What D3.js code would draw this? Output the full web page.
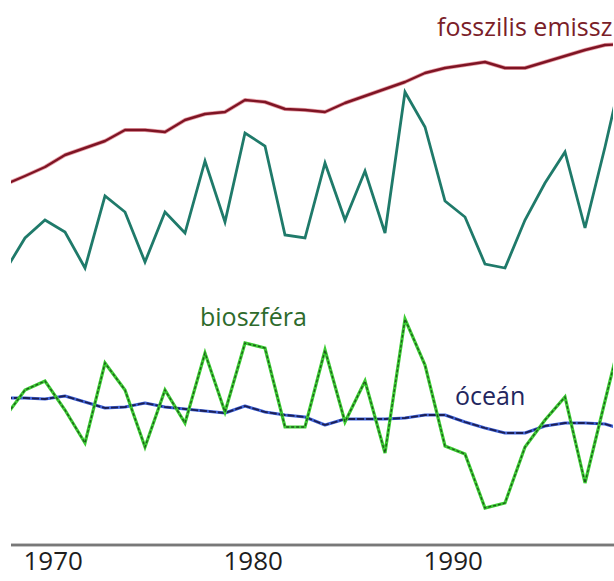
<!DOCTYPE html>
<html>
<head>
<meta charset="utf-8">
<script src="https://cdn.jsdelivr.net/npm/d3@7"></script>
<style>
  html, body { margin: 0; padding: 0; background: #fff; }
  svg { display: block; font-family: "Open Sans", "Noto Sans", sans-serif; }
</style>
</head>
<body>
<svg id="chart" width="614" height="581"></svg>
<script>
// Global carbon budget fluxes (GtC/yr, sinks shown around a shared baseline)
const years = d3.range(1969, 2001);

const fossil = [4.31, 4.48, 4.66, 4.90, 5.04, 5.18, 5.40, 5.40, 5.36, 5.60,
                5.72, 5.76, 6.00, 5.96, 5.82, 5.80, 5.76, 5.94, 6.08, 6.22,
                6.36, 6.54, 6.64, 6.70, 6.76, 6.64, 6.64, 6.76, 6.88, 7.00,
                7.10, 7.12];

const atmosphere = [2.58, 3.24, 3.60, 3.36, 2.64, 4.08, 3.76, 2.76, 3.76, 3.34,
                    4.78, 3.56, 5.34, 5.08, 3.30, 3.24, 4.74, 3.60, 4.58, 3.34,
                    6.16, 5.46, 3.98, 3.66, 2.72, 2.64, 3.60, 4.34, 4.96, 3.44,
                    5.06, 6.80];

const biosphere = [-0.34, 0.20, 0.38, -0.20, -0.86, 0.74, 0.20, -0.94, 0.20, -0.46,
                   0.94, -0.24, 1.14, 1.04, -0.54, -0.54, 1.00, -0.44, 0.38, -1.06,
                   1.62, 0.70, -0.92, -1.08, -2.16, -2.06, -0.94, -0.40, 0.06, -1.66,
                   -0.02, 1.60];

const ocean = [0.04, 0.04, 0.02, 0.08, -0.04, -0.16, -0.14, -0.06, -0.14, -0.18,
               -0.22, -0.26, -0.12, -0.24, -0.30, -0.34, -0.50, -0.38, -0.38, -0.38,
               -0.36, -0.30, -0.30, -0.44, -0.56, -0.66, -0.66, -0.52, -0.46, -0.46,
               -0.48, -0.60];

const tickYears = [1970, 1980, 1990];
const tickLabels = ["1970", "1980", "1990"];

const seriesLabels = {
  fossil: "fosszilis emisszió",
  biosphere: "bioszféra",
  ocean: "óceán"
};

const svg = d3.select("#chart");
const W = 614, H = 581;

const x = d3.scaleLinear().domain([1970, 1990]).range([25, 425]);
const y = d3.scaleLinear().domain([0, 1]).range([400, 350]);

svg.append("defs").append("clipPath").attr("id", "plot-clip")
  .append("rect").attr("x", 11).attr("y", 0).attr("width", 602).attr("height", 540);

const line = d3.line().x(d => x(d[0])).y(d => y(d[1]));
const pairs = vals => years.map((yr, i) => [yr, vals[i]]);

const plot = svg.append("g").attr("clip-path", "url(#plot-clip)");

// fossil emissions
plot.append("path").attr("d", line(pairs(fossil)))
  .attr("fill", "none").attr("stroke", "#e8a0a8").attr("stroke-width", 4)
  .attr("stroke-linejoin", "round");
plot.append("path").attr("d", line(pairs(fossil)))
  .attr("fill", "none").attr("stroke", "#7e1424").attr("stroke-width", 2.4)
  .attr("stroke-linejoin", "round");

// atmospheric growth
plot.append("path").attr("d", line(pairs(atmosphere)))
  .attr("fill", "none").attr("stroke", "#1f7a6a").attr("stroke-width", 2.8)
  .attr("stroke-linejoin", "miter");

// ocean sink
plot.append("path").attr("d", line(pairs(ocean)))
  .attr("fill", "none").attr("stroke", "#3f63d8").attr("stroke-width", 3.2)
  .attr("stroke-linejoin", "round");
plot.append("path").attr("d", line(pairs(ocean)))
  .attr("fill", "none").attr("stroke", "#1c1f55").attr("stroke-width", 1.8)
  .attr("stroke-dasharray", "7,2").attr("stroke-linejoin", "round");

// land biosphere
plot.append("path").attr("d", line(pairs(biosphere)))
  .attr("fill", "none").attr("stroke", "#3ccc33").attr("stroke-width", 3.2)
  .attr("stroke-linejoin", "miter");
plot.append("path").attr("d", line(pairs(biosphere)))
  .attr("fill", "none").attr("stroke", "#1e5a1c").attr("stroke-width", 1.3)
  .attr("stroke-dasharray", "3,2").attr("stroke-linejoin", "miter");

// series labels
svg.append("text").attr("x", 437).attr("y", 36)
  .attr("font-size", 25).attr("fill", "#7a2028").text(seriesLabels.fossil);
svg.append("text").attr("x", 200).attr("y", 326)
  .attr("font-size", 25).attr("fill", "#2e6b2c").text(seriesLabels.biosphere);
svg.append("text").attr("x", 455).attr("y", 405)
  .attr("font-size", 25).attr("fill", "#23265e").text(seriesLabels.ocean);

// time axis
const axis = d3.axisBottom(x)
  .tickValues(tickYears)
  .tickFormat((d, i) => tickLabels[i])
  .tickSize(0)
  .tickPadding(0);

const gAxis = svg.append("g").attr("transform", "translate(0,545)").call(axis);
gAxis.select(".domain").remove();
gAxis.append("line").attr("x1", 11).attr("x2", W).attr("y1", 0).attr("y2", 0)
  .attr("stroke", "#8a8a8a").attr("stroke-width", 3.2);
gAxis.append("line").attr("x1", 11).attr("x2", W).attr("y1", 0).attr("y2", 0)
  .attr("stroke", "#666").attr("stroke-width", 1.2);
gAxis.selectAll(".tick text")
  .attr("font-family", "'Open Sans', 'Noto Sans', sans-serif")
  .attr("font-size", 26)
  .attr("fill", "#1e1e1e")
  .attr("text-anchor", "start")
  .attr("dx", -2)
  .attr("dy", 0)
  .attr("y", 25);
</script>
</body>
</html>
